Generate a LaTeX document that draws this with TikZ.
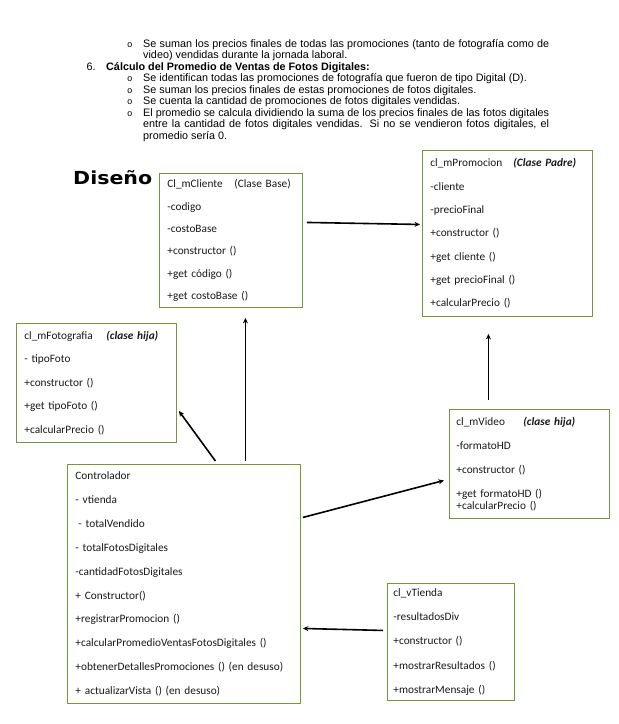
\documentclass[tikz,border=0pt]{standalone}
\usepackage{fontspec}
\setmainfont{Liberation Sans}
\newfontfamily\cali{Carlito}[WordSpace=0.75]
\newfontfamily\pesada{DejaVu Sans}
\newfontfamily\mono{Liberation Mono}
\usetikzlibrary{arrows.meta, positioning, calc}

\definecolor{verdecaja}{RGB}{118,150,66}
\newcommand{\filas}[1]{\fontsize{11.3pt}{#1}\selectfont}

\begin{document}
\begin{tikzpicture}[
  x=1pt, y=-1pt,
  clase/.style={rectangle, draw=verdecaja, line width=0.9pt, anchor=north west,
    align=left, inner xsep=8pt, inner ysep=0pt, text=black!90},
  arrow/.style={-{Stealth[length=5.5pt,width=5pt]}, line width=1.6pt},
  vineta/.style={anchor=base west, inner sep=0pt, font=\mono\fontsize{9pt}{9pt}\selectfont},
  parrafo/.style={anchor=base west, inner sep=0pt, text width=406pt, align=justify,
    font=\fontsize{10.8pt}{11.55pt}\selectfont}
]
\useasboundingbox[fill=white] (0,0) rectangle (619,724);

% texto de arriba
\node[vineta] (v1) at (127,47) {o};
\node[parrafo] (p1) at (143,47) {Se suman los precios finales de todas las promociones (tanto de fotografía como de\linebreak video) vendidas durante la jornada laboral.};
\node[vineta, font=\fontsize{10.8pt}{10.8pt}\selectfont] (n6) at (86.5,70) {6.};
\node[parrafo, font=\bfseries\fontsize{10.8pt}{11.55pt}\selectfont] (h6) at (106,70) {Cálculo del Promedio de Ventas de Fotos Digitales:};
\node[vineta] (v2) at (127,81.5) {o};
\node[parrafo] (p2) at (143,81.5) {Se identifican todas las promociones de fotografía que fueron de tipo Digital (D).};
\node[vineta] (v3) at (127,93) {o};
\node[parrafo] (p3) at (143,93) {Se suman los precios finales de estas promociones de fotos digitales.};
\node[vineta] (v4) at (127,104.5) {o};
\node[parrafo] (p4) at (143,104.5) {Se cuenta la cantidad de promociones de fotos digitales vendidas.};
\node[vineta] (v5) at (127,116) {o};
\node[parrafo] (p5) at (143,116) {El promedio se calcula dividiendo la suma de los precios finales de las fotos digitales\linebreak entre la cantidad de fotos digitales vendidas. Si no se vendieron fotos digitales, el\linebreak promedio sería 0.};

\node[anchor=base west, inner sep=0pt, font=\pesada\bfseries\fontsize{18pt}{18pt}\selectfont] (disenio) at (73,184) {\resizebox{79pt}{\height}{Diseño}};

% clases
\node[clase, text width=127pt, minimum height=134pt, font=\cali\filas{22.4pt}] (cli) at (159,173)
  {\makebox[67pt][l]{Cl\_mCliente}(Clase Base)\\-codigo\\-costoBase\\+constructor ()\\+get código ()\\+get costoBase ()};
\node[clase, text width=154pt, minimum height=166pt, font=\cali\filas{23.3pt}] (promo) at (422,150)
  {\makebox[83pt][l]{cl\_mPromocion}\textbf{\textit{(Clase Padre)}}\\-cliente\\-precioFinal\\+constructor ()\\+get cliente ()\\+get precioFinal ()\\+calcularPrecio ()};
\node[clase, text width=144pt, minimum height=119pt, font=\cali\filas{23.5pt}] (foto) at (16,323)
  {\makebox[82pt][l]{cl\_mFotografia}\textbf{\textit{(clase hija)}}\\- tipoFoto\\+constructor ()\\+get tipoFoto ()\\+calcularPrecio ()};
\node[clase, text width=146pt, minimum height=109pt, inner xsep=7pt, font=\cali\filas{24pt}] (video) at (449,409)
  {\makebox[67pt][l]{cl\_mVideo}\textbf{\textit{(clase hija)}}\\-formatoHD\\+constructor ()\\+get formatoHD ()\\[-12pt]+calcularPrecio ()};
\node[clase, text width=217pt, minimum height=239pt, font=\cali\filas{23.9pt}] (ctrl) at (67,464)
  {Controlador\\- vtienda\\\hspace*{3pt}- totalVendido\\- totalFotosDigitales\\-cantidadFotosDigitales\\+ Constructor()\\+registrarPromocion ()\\+calcularPromedioVentasFotosDigitales ()\\+obtenerDetallesPromociones () (en desuso)\\+ actualizarVista () (en desuso)};
\node[clase, text width=115pt, minimum height=117pt, inner xsep=6pt, font=\cali\filas{24.25pt}] (tienda) at (387,583)
  {cl\_vTienda\\-resultadosDiv\\+constructor ()\\+mostrarResultados ()\\+mostrarMensaje ()};

% flechas
\draw[arrow] ($(cli.east)+(4,-18)$) -- ($(promo.west)+(-2,-9)$);
\draw[arrow] ($(ctrl.north)+(61.5,-3)$) -- ($(cli.south)+(14.5,10)$);
\draw[arrow] ($(ctrl.north)+(31.5,-3)$) -- ($(foto.east)+(2,28)$);
\draw[arrow] ($(video.north)+(-41,-9)$) -- ($(promo.south)+(-19,17)$);
\draw[arrow] ($(ctrl.east)+(2,-66.5)$) -- ($(video.west)+(-5,16.5)$);
\draw[arrow] ($(tienda.west)+(-4,-11.5)$) -- ($(ctrl.east)+(2,44.5)$);
\end{tikzpicture}
\end{document}
